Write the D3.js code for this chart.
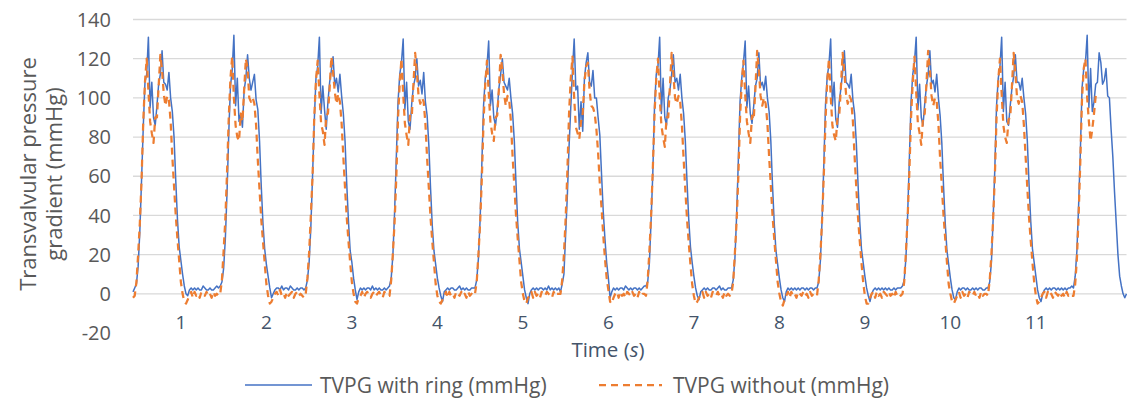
<!DOCTYPE html>
<html>
<head>
<meta charset="utf-8">
<script src="https://cdn.jsdelivr.net/npm/d3@7"></script>
<style>
  html, body { margin: 0; padding: 0; background: #ffffff; }
  svg { display: block; font-family: "Open Sans", "Noto Sans", sans-serif; }
</style>
</head>
<body>
<svg id="chart" width="1127" height="401"></svg>
<script>
// ---- data (sampled every 0.02 s, first sample at t = 0.44 s) ----
const startTime = 0.44;
const sampleStep = 0.02;
const xTicks = [1, 2, 3, 4, 5, 6, 7, 8, 9, 10, 11];
const yTicks = [-20, 0, 20, 40, 60, 80, 100, 120, 140];
const seriesNames = ["TVPG with ring (mmHg)", "TVPG without (mmHg)"];

const withRing = [
  1,3,5,14,32,58,85,108,112,131, 95,108,90,86,96,107,112,124,108,107, 104,113,100,93,80,58,38,24,17,10, 4,0,-1,2,3,2,3,2,3,2, 2,4,3,2,2,3,2,2,3,4,
  3,4,6,13,28,52,82,106,114,132, 96,110,88,92,85,104,110,122,110,104, 108,112,99,94,78,55,36,23,15,9, 3,-2,0,2,3,3,2,4,2,3, 3,2,4,3,2,2,3,2,3,3,
  2,3,7,16,34,60,88,110,116,131, 92,106,94,84,98,108,114,121,106,110, 103,112,101,92,78,56,37,22,16,8, 2,-3,1,3,2,3,2,3,3,2, 4,2,3,2,3,2,2,3,2,3,
  4,8,20,42,70,98,112,118,130,94, 108,88,84,97,106,110,120,106,109,102, 113,98,91,76,54,35,22,15,8,3, -1,-4,1,2,3,2,3,3,2,2, 3,4,2,3,2,3,2,2,3,3,
  3,7,18,38,66,96,110,116,129,96, 104,90,86,94,105,112,120,108,106,104, 110,100,92,78,56,36,23,16,9,2, -2,-5,0,2,3,2,3,2,3,3, 2,3,2,4,2,3,2,3,2,3,
  1,5,10,30,50,75,95,114,130,104, 106,84,98,83,110,118,123,108,106,114, 100,100,90,81,61,42,28,16,8,-2, 1,3,2,3,2,3,3,2,4,3, 2,3,2,3,3,2,3,2,3,4,
  4,6,16,38,62,96,112,116,131,92, 110,90,86,100,104,112,122,108,110,104, 112,100,92,78,57,38,24,16,9,3, -1,-3,1,2,3,2,3,2,2,3, 3,2,3,4,2,3,2,2,3,3,
  3,7,18,40,68,98,110,118,129,95, 106,92,87,96,106,110,123,106,108,104, 111,100,93,78,55,36,22,15,8,2, -2,-4,1,3,2,3,2,3,2,3, 2,3,3,2,3,2,3,3,2,3,
  3,6,17,38,66,97,111,117,130,96, 108,89,85,98,105,113,124,108,107,105, 112,99,92,77,56,37,23,16,9,3, -1,-4,0,2,3,2,3,2,3,2, 3,2,3,2,2,3,2,3,3,3,
  4,7,18,40,68,98,112,118,131,94, 107,90,86,97,106,112,124,107,109,103, 112,100,91,77,55,36,22,15,8,2, -2,-3,1,3,2,3,3,2,3,2, 2,3,2,3,2,3,3,2,2,3,
  3,6,16,38,64,96,110,116,131,93, 108,88,86,96,105,111,122,108,108,104, 110,100,92,78,56,37,23,16,9,2, -2,-4,0,2,3,2,3,2,3,3, 2,3,2,3,2,3,2,3,3,4,
  3,9,22,45,72,105,115,118,132,95, 115,93,98,107,108,123,118,107,109,115, 101,100,84,70,52,36,20,9,4,0, -2,0
];

const withoutRing = [
  -2,-1,6,20,36,58,88,108,120,104, 88,82,77,90,90,106,122,114,102,96, 101,99,88,70,55,40,28,17,6,0, -4,-5,-3,-1,1,-2,1,-1,0,-2, 1,0,-1,1,-1,0,-2,1,-1,0,
  -1,0,7,22,38,62,90,110,121,100, 86,80,78,92,88,104,120,115,100,98, 100,97,86,68,53,38,27,16,5,-1, -5,-4,-2,0,1,-1,2,-1,0,-2, 1,-1,0,1,-2,0,1,-1,0,-1,
  -2,0,8,21,40,60,90,109,119,102, 87,83,76,91,92,105,121,113,103,97, 102,98,87,70,54,39,27,16,6,0, -4,-5,-2,-1,1,-2,0,1,-1,-2, 0,1,-1,0,1,-1,-2,1,0,-1,
  -1,7,21,37,60,90,108,120,102,87, 81,76,91,90,107,123,113,101,97,100, 98,87,69,54,39,27,16,5,-1,-4, -5,-3,-1,1,-2,1,-1,0,-2,1, 0,-1,1,-1,0,-2,1,-1,0,-1,
  0,6,20,36,59,88,107,119,103,88, 82,78,90,91,105,122,114,102,96,101, 99,88,70,55,40,28,17,6,0,-4, -5,-2,-1,1,-2,1,-1,0,-2,1, 0,-1,1,0,-1,-2,1,-1,0,0,
  0,7,20,38,62,92,110,121,100,85, 82,79,88,92,108,116,118,104,96,95, 92,84,72,56,44,30,18,8,2,-4, -5,-2,0,1,-2,1,-1,0,-2,1, 0,-1,1,-1,0,-2,1,-1,0,0,
  -1,7,22,40,64,92,110,120,101,86, 80,75,90,90,106,123,112,100,97,101, 98,86,69,53,38,26,15,5,-1,-5, -4,-2,0,1,-2,1,-1,0,-2,1, 0,-1,1,-1,0,-2,1,-1,0,-1,
  0,6,21,37,60,90,108,119,102,88, 82,77,91,89,105,124,114,101,96,100, 97,87,70,55,40,28,17,6,0,-4, -6,-3,-1,1,-2,1,-1,0,-2,1, 0,-1,1,-1,0,-2,1,-1,0,0,
  -1,7,20,38,61,89,109,120,101,86, 81,78,90,91,106,123,113,102,97,101, 99,88,70,54,39,27,16,6,-1,-5, -5,-2,0,1,-2,1,-1,0,-2,1, 0,-1,1,-1,0,-2,1,-1,0,-1,
  0,6,21,39,62,90,108,121,103,87, 82,76,90,92,107,124,114,101,96,100, 98,87,69,55,40,28,16,5,0,-4, -5,-3,-1,1,-2,1,-1,0,-2,1, 0,-1,1,-1,0,-2,1,-1,0,0,
  -1,7,20,38,60,90,109,120,102,86, 80,77,89,90,106,123,113,100,97,101, 98,86,70,54,39,27,16,6,-1,-5, -4,-2,0,1,-2,1,-1,0,-2,1, 0,-1,1,-1,0,-2,1,-1,0,-1,
  -1,5,18,40,68,100,115,120,100,88, 78,84,92,101
];

// ---- layout ----
const svg = d3.select("#chart");
const plot = { left: 133, right: 1126.5, top: 19.5, bottom: 333 };

const x = d3.scaleLinear()
  .domain([0.44, 12.06])
  .range([plot.left, plot.right]);
const y = d3.scaleLinear()
  .domain([-20, 140])
  .range([plot.bottom, plot.top]);

const toPoints = arr => arr.map((v, i) => ({ t: startTime + i * sampleStep, v }));

// gridlines (0..140)
svg.append("g")
  .selectAll("line")
  .data(yTicks.filter(d => d >= 0))
  .join("line")
  .attr("x1", plot.left)
  .attr("x2", plot.right)
  .attr("y1", d => y(d))
  .attr("y2", d => y(d))
  .attr("stroke", "#d9d9d9")
  .attr("stroke-width", 1.3);

// y tick labels
svg.append("g")
  .selectAll("text")
  .data(yTicks)
  .join("text")
  .attr("x", 111)
  .attr("y", d => y(d))
  .attr("dy", "0.36em")
  .attr("text-anchor", "end")
  .attr("font-size", 20)
  .attr("fill", "#595959")
  .text(d => d);

// x tick labels (axis crosses at 0)
svg.append("g")
  .selectAll("text")
  .data(xTicks)
  .join("text")
  .attr("x", d => x(d))
  .attr("y", y(0) + 28)
  .attr("dy", "0.36em")
  .attr("text-anchor", "middle")
  .attr("font-size", 19)
  .attr("fill", "#44546a")
  .text(d => d);

// x-axis title
const xt = svg.append("text")
  .attr("x", 608)
  .attr("y", 357)
  .attr("text-anchor", "middle")
  .attr("font-size", 20.5)
  .attr("fill", "#44546a");
xt.append("tspan").text("Time (");
xt.append("tspan").attr("font-style", "italic").text("s");
xt.append("tspan").text(")");

// y-axis title
const yt = svg.append("text")
  .attr("transform", "translate(36,174) rotate(-90)")
  .attr("text-anchor", "middle")
  .attr("font-size", 22)
  .attr("fill", "#595959");
yt.append("tspan").attr("x", 0).attr("y", 0).text("Transvalvular pressure");
yt.append("tspan").attr("x", 0).attr("y", 26).text("gradient (mmHg)");

// series lines
const line = d3.line()
  .x(d => x(d.t))
  .y(d => y(d.v));

svg.append("path")
  .datum(toPoints(withRing))
  .attr("d", line)
  .attr("fill", "none")
  .attr("stroke", "#4472c4")
  .attr("stroke-width", 1.5)
  .attr("stroke-linejoin", "round");

svg.append("path")
  .datum(toPoints(withoutRing))
  .attr("d", line)
  .attr("fill", "none")
  .attr("stroke", "#ed7d31")
  .attr("stroke-width", 2.25)
  .attr("stroke-dasharray", "7,5")
  .attr("stroke-linejoin", "round");

// legend
const legend = svg.append("g");
legend.append("line")
  .attr("x1", 245).attr("x2", 312)
  .attr("y1", 385).attr("y2", 385)
  .attr("stroke", "#4472c4").attr("stroke-width", 1.5);
legend.append("text")
  .attr("x", 320).attr("y", 385).attr("dy", "0.36em")
  .attr("font-size", 21).attr("fill", "#595959")
  .text(seriesNames[0]);
legend.append("line")
  .attr("x1", 599).attr("x2", 662)
  .attr("y1", 385).attr("y2", 385)
  .attr("stroke", "#ed7d31").attr("stroke-width", 2.25)
  .attr("stroke-dasharray", "7,5");
legend.append("text")
  .attr("x", 673).attr("y", 385).attr("dy", "0.36em")
  .attr("font-size", 21).attr("fill", "#595959")
  .text(seriesNames[1]);
</script>
</body>
</html>
